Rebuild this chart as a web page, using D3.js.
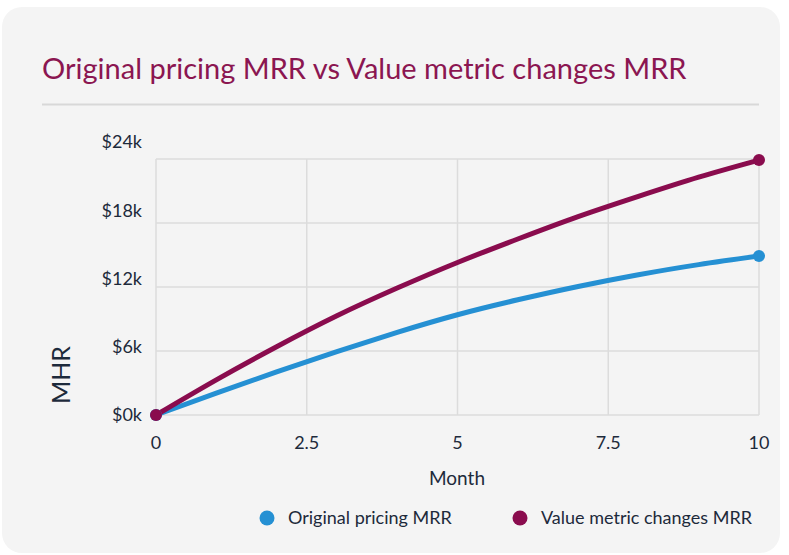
<!DOCTYPE html>
<html><head><meta charset="utf-8">
<script src="https://cdn.jsdelivr.net/npm/d3@7/dist/d3.min.js"></script>
<style>
html,body{margin:0;padding:0;background:#fff;}
svg{display:block;font-family:Lato,"Open Sans",sans-serif;}
</style></head>
<body>
<svg id="chart" width="789" height="555"></svg>
<script>
const title = "Original pricing MRR vs Value metric changes MRR";
const months = [0,1,2,3,4,5,6,7,8,9,10];
const originalMRR = [0,2050,4050,5950,7750,9400,10800,12050,13150,14100,14900];
const valueMRR = [0,3300,6400,9300,11900,14300,16500,18600,20500,22300,23900];
const xTicks = [0,2.5,5,7.5,10];
const yTicks = [0,6000,12000,18000,24000];
const yTickLabels = ["$0k","$6k","$12k","$18k","$24k"];
const seriesNames = ["Original pricing MRR","Value metric changes MRR"];
const colors = ["#2590d3","#8a0c4e"];
const xLabel = "Month", yLabel = "MHR";

const svg = d3.select("#chart");
const textColor = "#1d2a3b", gridColor = "#dcdcdc";

svg.append("rect").attr("x",2).attr("y",7).attr("width",778).attr("height",546)
  .attr("rx",20).attr("fill","#f4f4f4");

const t = svg.append("text").attr("x",42).attr("y",79).attr("fill","#8b1651")
  .attr("font-size",27).text(title);
const tw = t.node().getComputedTextLength();
t.attr("font-size",27*645/tw);

svg.append("line").attr("x1",42).attr("x2",759).attr("y1",104.5).attr("y2",104.5)
  .attr("stroke","#d8d8d8").attr("stroke-width",2);

const x = d3.scaleLinear().domain([0,10]).range([156,759]);
const y = d3.scaleLinear().domain([0,24000]).range([415,159]);
const yLab = d3.scaleLinear().domain([0,24000]).range([415,142]);

const g = svg.append("g");
g.selectAll(".vg").data(xTicks).join("line")
  .attr("x1",d=>x(d)).attr("x2",d=>x(d)).attr("y1",y(0)).attr("y2",y(24000))
  .attr("stroke",gridColor).attr("stroke-width",1.5);
g.selectAll(".hg").data(yTicks).join("line")
  .attr("x1",x(0)).attr("x2",x(10)).attr("y1",d=>y(d)).attr("y2",d=>y(d))
  .attr("stroke",gridColor).attr("stroke-width",1.5);

g.selectAll(".xt").data(xTicks).join("text")
  .attr("x",d=>x(d)).attr("y",449).attr("text-anchor","middle")
  .attr("fill",textColor).attr("font-size",18).text(d=>d);
g.selectAll(".yt").data(yTicks).join("text")
  .attr("x",142).attr("y",d=>yLab(d)).attr("dy","0.35em").attr("text-anchor","end")
  .attr("fill",textColor).attr("font-size",18).text((d,i)=>yTickLabels[i]);

svg.append("text").attr("x",457).attr("y",485).attr("text-anchor","middle")
  .attr("fill",textColor).attr("font-size",19).text(xLabel);
svg.append("text").attr("transform","translate(70,375) rotate(-90)").attr("text-anchor","middle")
  .attr("fill",textColor).attr("font-size",25).text(yLabel);

const series = [originalMRR, valueMRR];
const line = d3.line().x((d,i)=>x(months[i])).y(d=>y(d)).curve(d3.curveNatural);
series.forEach((s,k)=>{
  svg.append("path").datum(s).attr("d",line).attr("fill","none")
    .attr("stroke",colors[k]).attr("stroke-width",5).attr("stroke-linecap","round");
});
series.forEach((s,k)=>{
  const ends = [0, s.length-1];
  svg.selectAll(null).data(ends).join("circle")
    .attr("cx",i=>x(months[i])).attr("cy",i=>y(s[i])).attr("r",6).attr("fill",colors[k]);
});

const legX = [267, 520];
const legW = [169, 216];
seriesNames.forEach((n,k)=>{
  svg.append("circle").attr("cx",legX[k]).attr("cy",518).attr("r",7.5).attr("fill",colors[k]);
  const lt = svg.append("text").attr("x",legX[k]+21).attr("y",518).attr("dy","0.35em")
    .attr("fill",textColor).attr("font-size",17).text(n);
  const w = lt.node().getComputedTextLength();
  lt.attr("font-size",Math.min(18,17*legW[k]/w));
});
</script>
</body></html>
